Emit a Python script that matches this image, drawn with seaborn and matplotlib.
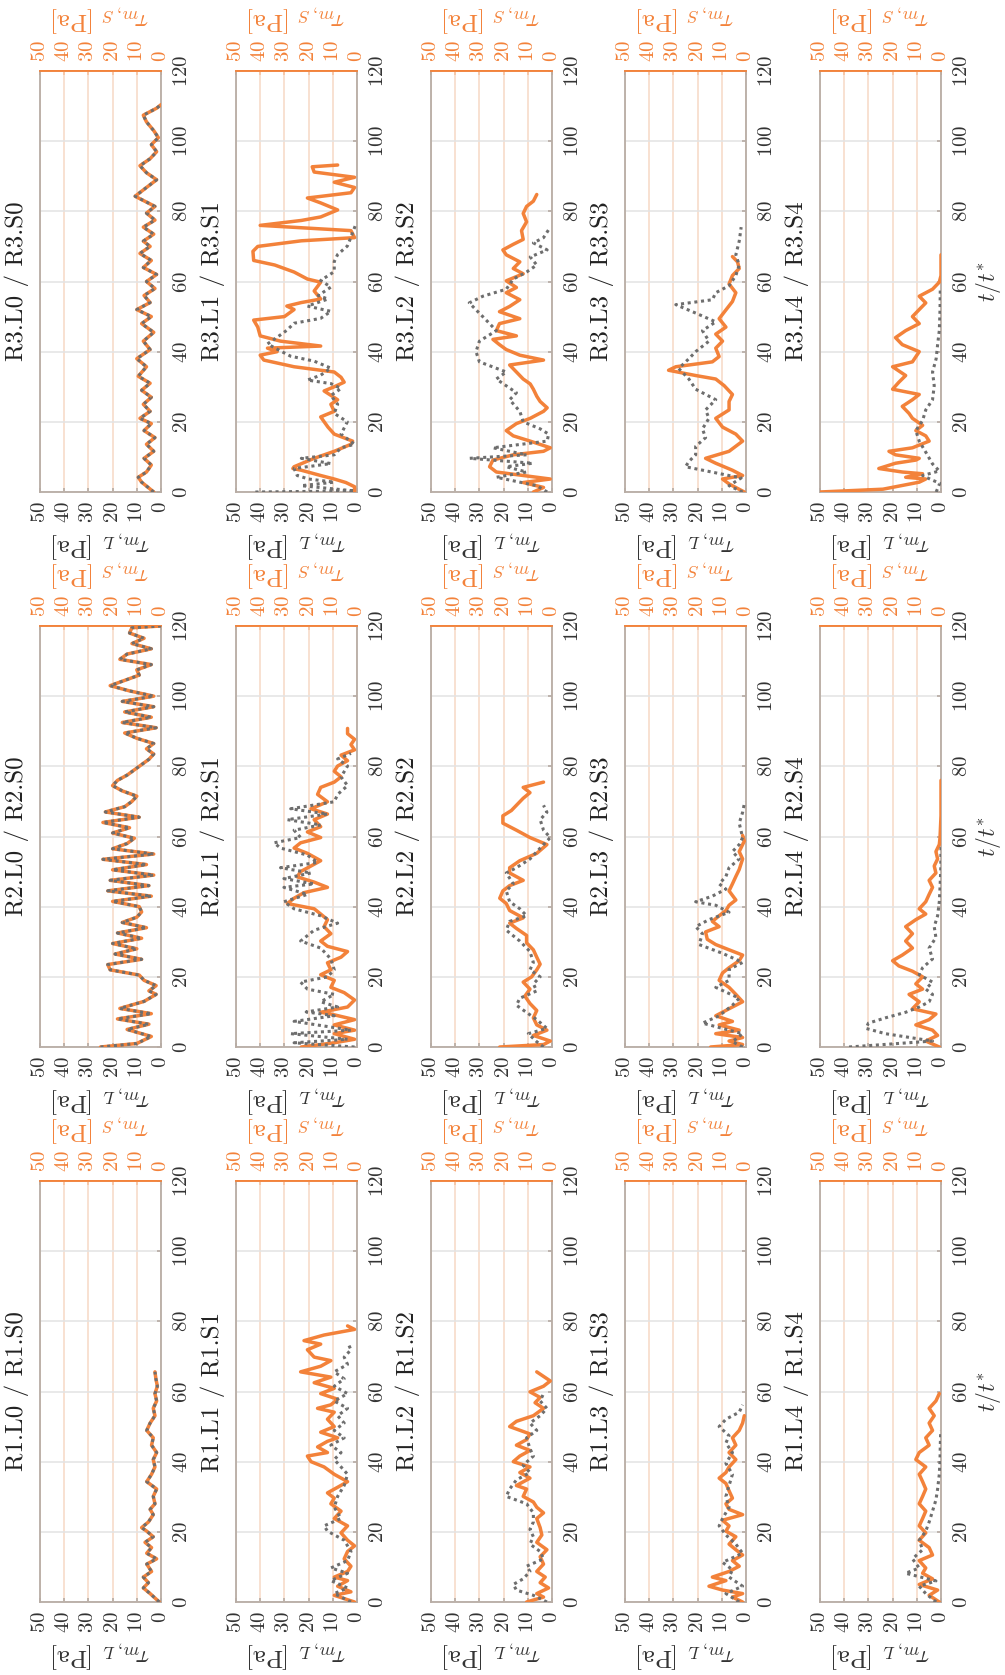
import matplotlib
matplotlib.use("Agg")
import matplotlib.pyplot as plt
import numpy as np
import pandas as pd
import seaborn as sns

# ---------------------------------------------------------------------------
# Wall shear stress histories, (t/t*, tau [Pa]) pairs.
# L = tau_m,L (grey dotted, bottom axis), S = tau_m,S (orange, top axis)
# ---------------------------------------------------------------------------
R3_L0 = [(0, 3), (2.8, 8), (4.2, 9.4), (5.7, 6), (7.7, 4), (9.6, 7), (11.6, 3), (13.6, 6),
         (15.5, 2.5), (17.5, 7), (19.5, 4), (21, 8.7), (23, 4.5), (25, 7.3), (27, 4), (29, 8),
         (31, 4.5), (33, 9.4), (35.7, 6), (38, 10), (40.6, 4.5), (43, 7.3), (45.5, 3), (48, 8),
         (50, 4), (52, 10), (54, 4.5), (56, 7), (58, 2.5), (60, 6), (62, 1.8), (64, 7.3),
         (66, 4), (68, 8.7), (70, 4.5), (71.5, 7.3), (73.5, 3), (75.5, 7.3), (77.5, 2.5),
         (79.5, 6), (81.4, 2.5), (84.3, 10.7), (86.8, 6), (89, 1.8), (91, 6), (93, 8.7),
         (95, 4.5), (97, 1.8), (99, 4), (101, 1.1), (103, 3), (105.5, 6), (107.4, 7.3),
         (109.4, 1.8), (110.4, 0)]
R3_S0 = R3_L0

R3_L1 = [(0, 42), (0.3, 1), (1.8, 23), (2.8, 9.4), (3.7, 20), (4.7, 24.7), (6.7, 26), (8.1, 10.8),
         (9.6, 23), (10.6, 9.4), (12.6, 6.6), (13.6, 1), (16.5, 6.6), (20, 4), (22.4, 9.4),
         (25, 8), (27.5, 10.8), (29.5, 6.6), (30.9, 10.8), (31.9, 20.5), (33.3, 15), (35.3, 10.8),
         (37.3, 17.7), (38.7, 27.4), (40.2, 31.6), (42.2, 37), (44.1, 33), (46.1, 29), (48.1, 26),
         (49.5, 15), (51.5, 10.8), (53, 20.5), (55, 12), (56, 16), (58.4, 10.8), (60.3, 15),
         (62.8, 9.4), (65.7, 9.4), (67.7, 8), (70.1, 4), (72.6, 2.5), (76.5, 0.4)]
R3_S1 = [(0, 1), (1.5, 1), (2.7, 4.6), (3.7, 9.4), (4.7, 15), (6.2, 23), (6.7, 26.5), (7.2, 26),
         (9.6, 17.7), (11.6, 9.4), (13.6, 2.5), (14.5, 1.8), (16.5, 9.4), (18.5, 12), (21.4, 15),
         (23, 9.4), (25, 10.8), (26.3, 8), (28.8, 13.6), (30, 9.4), (31.3, 5.3), (32.7, 6.6),
         (34.2, 9.4), (35.7, 26), (37.6, 38.5), (39, 40), (40, 33), (41, 37), (41.6, 15),
         (43, 31.6), (44.5, 40), (47, 41), (49, 42.7), (50, 30), (52, 26), (53, 29), (54, 23),
         (55, 15), (57.3, 17.7), (59.8, 15), (60.7, 20.5), (62.7, 26), (64.7, 34), (66, 42.7),
         (68.6, 43), (70, 41), (71.6, 23), (72.5, 1), (74.5, 2.5), (76, 40), (77.4, 23),
         (78.4, 15), (80.4, 8), (82.4, 15), (83.8, 20.5), (85.3, 2.5), (86.8, 1), (88.3, 9.4),
         (89.7, 1), (91.2, 17.7), (92.7, 18.5), (93.2, 8)]

R3_L2 = [(0, 2), (1.8, 6.3), (4.2, 23), (5.7, 10.5), (7.2, 18.9), (8.2, 8), (9.6, 34), (10.6, 10.5),
         (12.6, 24.4), (14.5, 2), (16.5, 1.4), (18, 4.9), (20, 11.9), (23, 13.3), (26.3, 17.5),
         (28.3, 14.7), (32.2, 23), (34.2, 18.9), (37.1, 30), (40, 31.4), (43, 30), (46, 23),
         (49, 27.2), (53.9, 34.2), (55.8, 28.6), (57.8, 18.9), (60.7, 16), (62.7, 10.5),
         (64.7, 6.3), (67, 9), (69, 2), (71, 7.7), (72.5, 3.5), (75.5, 0.7)]
R3_S2 = [(0, 7.7), (1.3, 3.5), (2.7, 11.9), (3.7, 0.7), (5.7, 23), (7.2, 25.8), (9.1, 24.4),
         (10.6, 16), (11.6, 3.5), (12.6, 0.7), (14.5, 9), (16, 16), (17.5, 18.9), (19.5, 14.7),
         (21, 9), (23, 3.5), (24, 2), (25.8, 4.9), (27.3, 6.3), (29.3, 7.7), (30.8, 9),
         (32.2, 11.9), (34.2, 14.7), (36.2, 17.5), (37.6, 3.5), (39, 13.3), (40.6, 18.9),
         (42, 21.7), (43.5, 24.4), (44.5, 14.7), (46, 23), (48, 21.7), (49.4, 13.3), (51.4, 21.7),
         (52.9, 17.5), (54.8, 13.3), (56.8, 18.9), (58.3, 14.7), (60.2, 18.9), (62.2, 11.9),
         (63.7, 16), (65.6, 13.3), (67.6, 18.9), (69, 20.3), (70.6, 16), (72, 11.9), (74.5, 12.6),
         (77, 10.5), (79.4, 11.9), (81.4, 10.5), (82.9, 7.7), (84.8, 6.3)]

R3_L3 = [(0, 1.4), (1.8, 7), (4, 2), (7.2, 25), (8.7, 23.6), (10.6, 20.8), (13, 20.8), (15.5, 16.7),
         (18, 18), (21, 15.3), (23.4, 16.7), (26.3, 12.5), (29.3, 20.8), (32.2, 23.6), (35.2, 27.8),
         (38, 23.6), (40, 20.8), (43, 15.3), (46, 18), (48.5, 12.5), (51, 20.8), (53.4, 29),
         (54.8, 13.9), (56.8, 12.5), (58.8, 7), (61.7, 4.2), (64.7, 2.8), (67.6, 4.2), (71.5, 2.8),
         (75.5, 2)]
R3_S3 = [(0, 0.7), (2.3, 7), (3.7, 9.7), (4.7, 1.4), (6.2, 5.6), (8.2, 12.5), (9.6, 16.7), (11.6, 7),
         (14.5, 1.4), (16.5, 4.2), (18.5, 9.7), (21, 12.5), (23.4, 7), (25.8, 7), (27.8, 5.6),
         (30.3, 9), (32.2, 12.5), (33.2, 20.8), (34.7, 32), (35.7, 29), (37.1, 13.9), (38.6, 11.1),
         (41, 12.5), (43, 9.7), (45, 12.5), (47, 8.3), (49.4, 11.1), (51.9, 8.3), (54.3, 5.6),
         (56.8, 4.2), (59.3, 7), (61.7, 5.6), (63.7, 2.8), (65.6, 3.5), (67.1, 5.6)]

R3_L4 = [(0, 2), (2.5, 0.5), (3.5, 4), (4.7, 7.6), (6, 0.7), (8, 3.5), (11, 6), (14.5, 9),
         (17.5, 10.4), (20.4, 7.6), (23.4, 6.3), (26.3, 3.5), (30.3, 2.8), (34.2, 3.5), (38, 2),
         (42, 1.4), (46, 0.7), (52, 0.4), (57.8, 0.3)]
R3_S4 = [(0, 50), (0.8, 24), (2.8, 9), (3.7, 6.3), (4.2, 14.6), (5.2, 7.6), (5.7, 16), (6.7, 25.7),
         (8.2, 18.8), (9.1, 10.4), (9.6, 9), (10.6, 18.8), (11.6, 21.5), (12.6, 11.8), (14.5, 4.9),
         (16, 6.3), (17.5, 10.4), (19, 7.6), (21, 11.8), (22.4, 13.2), (24.4, 16), (26.3, 11.8),
         (27.8, 9), (29.3, 20), (31.3, 17.4), (33.2, 14.6), (35.7, 20), (37.1, 11.8), (40, 9),
         (42, 16), (44, 18.8), (46, 14.6), (48, 9), (50, 11.8), (52, 9), (53.9, 6.3), (55.8, 9),
         (57.8, 3.5), (59.8, 0.7), (61.7, 0), (67.6, 0)]

R2_L0 = [(0, 25), (1, 10), (3, 4), (5, 14), (6.5, 5), (8, 18), (9.5, 4), (11, 17), (13, 7), (15, 2),
         (16, 5), (17.5, 2), (19, 7), (20.5, 9), (22, 21), (23.5, 22), (25, 8), (26.5, 19), (28, 10),
         (29.5, 20), (31, 8), (32.5, 18), (34, 6), (35.5, 16), (37, 10), (38.5, 8), (40, 9),
         (41.5, 20), (43, 4), (44.5, 22), (46, 5), (47.5, 21), (49, 3), (50.5, 20), (52, 6),
         (53.5, 24), (55, 3), (56.5, 20), (58, 14), (59.5, 11), (61, 20), (62.5, 13), (64, 24),
         (65.5, 9), (67, 23), (68.5, 15), (70, 12), (71.5, 10), (73, 16), (74.5, 20), (76, 18),
         (77.5, 14), (79, 11), (80.5, 8), (82, 5), (83.5, 3), (85, 6), (86.5, 3), (88, 10),
         (89.5, 15), (91, 2), (92.5, 16), (94, 4), (95.5, 15), (97, 3), (98.5, 16), (100, 3),
         (101.5, 13), (103, 21), (104.5, 15), (106, 9), (107.5, 10), (109, 4), (110.5, 17),
         (112, 14), (113.5, 4), (115, 12), (116.5, 7), (118, 13), (119.5, 12), (120, 0)]
R2_S0 = R2_L0

R2_L1 = [(0, 1), (1.2, 26), (2.2, 3.9), (3.8, 27.4), (4.8, 2.5), (7.3, 26), (8.9, 9.4), (10, 21),
         (11.4, 8), (12.9, 15), (15, 9.4), (16.5, 20.5), (18.5, 23.3), (20, 12.2), (22, 9.4),
         (25.1, 10.8), (28.2, 15), (30.2, 23.3), (33.3, 17.7), (35.3, 8), (37.4, 15), (39.4, 26),
         (41.4, 30.2), (43.5, 20.5), (45.5, 30.2), (46.5, 17.7), (48, 30.2), (49.6, 19),
         (51.1, 31.6), (52.6, 16.3), (54.7, 20.5), (56.7, 31.6), (58.2, 34.3), (59.7, 23.3),
         (61.8, 26), (63.3, 15), (64.8, 28.8), (66.4, 12.2), (67.9, 27.4), (69.9, 9.4), (72, 8),
         (74.5, 3.9), (77, 6.6), (80.1, 3.9), (82.1, 8), (83.7, 2.5)]
R2_S1 = [(0, 23), (1.2, 9.4), (2.2, 1), (3.8, 9.4), (4.8, 1), (6.3, 9.4), (7.8, 1), (9.4, 10.8),
         (9.9, 15), (11.4, 3.9), (13.4, 1), (15.5, 5.3), (17, 10.8), (19, 9.4), (20.6, 15),
         (22, 10.8), (24, 12.2), (25.6, 6.6), (27.2, 3.9), (28.7, 12.2), (30.2, 15), (32.3, 10.8),
         (34.3, 13.6), (36.3, 12.2), (37.9, 15), (39.4, 17.7), (40.9, 28.8), (42.4, 26), (44, 21.9),
         (45.5, 12.2), (47, 17.7), (48.5, 24.7), (50, 23.3), (51.6, 19), (53.1, 15), (55.2, 20.5),
         (56.7, 26), (58.2, 23.3), (59.7, 15), (61.3, 20.5), (62.8, 15), (64.8, 17.7), (66.4, 12.2),
         (67.9, 19), (69.9, 12.2), (72, 16.3), (74, 15), (75.5, 9.4), (77, 6.6), (78.6, 9.4),
         (80.1, 8), (81.6, 3.9), (83.2, 6.6), (84.7, 1), (86.2, 2.5), (87.7, 1), (89.3, 3.9),
         (90.8, 3.9)]

R2_L2 = [(0, 3.5), (1.5, 6.3), (3.8, 9.8), (5.3, 2.1), (7.8, 6.3), (11.9, 14.7), (13.9, 13.3),
         (16, 6.3), (18, 7.7), (20, 4.9), (22, 9.1), (24.1, 7.7), (27.2, 9.1), (30.2, 13.3),
         (33.3, 18.9), (35.8, 17.5), (37.4, 10.5), (39.4, 13.3), (41.4, 17.5), (44.5, 18.9),
         (46.5, 16), (49.6, 18.9), (51.1, 14.7), (53.6, 9.1), (57.7, 3.5), (59.7, 0.7), (61.8, 3.5),
         (64.8, 4.9), (66.9, 2.1), (68.9, 3.5)]
R2_S2 = [(0, 21.6), (0.7, 3.5), (1.7, 0.7), (3.3, 7.7), (4.8, 2.1), (6.3, 6.3), (8.3, 7.7),
         (10.4, 6.3), (12.4, 9.1), (14.5, 11.2), (16.5, 9.1), (18.5, 11.9), (20, 8.4), (22, 6.3),
         (23.6, 4.9), (25.6, 6.3), (27.7, 7.7), (29.7, 10.5), (31.8, 10.5), (33.8, 14.7),
         (35.3, 17.5), (36.8, 11.9), (38.9, 17.5), (40.9, 18.9), (42.4, 21.6), (44.5, 20.3),
         (46, 17.5), (47.5, 11.9), (49.6, 17.5), (51.1, 17.5), (53.1, 13.3), (55.2, 6.3),
         (57.7, 2.1), (59.7, 9.1), (61.8, 14.7), (63.8, 20.3), (65.9, 20.3), (67.4, 16.8),
         (68.9, 14.7), (70.9, 11.9), (72.5, 9.1), (74, 11.9), (75.5, 3.5)]

R2_L3 = [(0, 1.4), (1.5, 5.6), (3.8, 1.4), (6.8, 18), (8.9, 11.1), (11.9, 5.6), (13.9, 2.8),
         (17, 12.5), (19, 7), (22.1, 7), (24.1, 1.4), (26.7, 9.7), (29.2, 19.4), (32.3, 18),
         (34.3, 20.8), (36.3, 15.3), (38.4, 7), (40.4, 12.5), (41.4, 20.8), (43, 13.9), (45, 8.3),
         (46.5, 11.1), (48.6, 8.3), (51.1, 7), (53.6, 2.8), (55.7, 5.6), (57.7, 2.8), (59.7, 1.4),
         (63.8, 2.8), (66.9, 1.4), (70, 0.5)]
R2_S3 = [(0, 14.6), (0.7, 1.4), (1.7, 7), (2.7, 1.4), (3.8, 12.5), (4.8, 2.8), (6.3, 11.1),
         (7.3, 5.6), (8.9, 12.5), (10.9, 7), (12.9, 1.4), (15, 4.2), (17, 7), (19, 11.1), (21.1, 9.7),
         (22.6, 7), (24.6, 2.8), (26.2, 1.4), (27.7, 7), (29.2, 12.5), (30.7, 16), (32.8, 16.7),
         (34.3, 11.1), (35.8, 13.9), (37.4, 11.1), (38.9, 8.3), (40.4, 7), (41.9, 4.2), (44.5, 7),
         (46.5, 5.6), (48.6, 4.2), (50.6, 2.8), (53.6, 1.4), (55.7, 2.8), (58.7, 0.7), (60.3, 1.4)]

R2_L4 = [(0, 38), (1.7, 3.5), (3.8, 23), (5.3, 31), (6.8, 30), (8.3, 23), (9.9, 14.6), (11.4, 9),
         (12.9, 4.9), (15, 3.5), (16.5, 6.3), (18.5, 3.5), (20.6, 9), (22.6, 7.6), (25.1, 3.5),
         (28.2, 4.9), (31.2, 2.1), (34.3, 2.8), (37.4, 1.4), (41.4, 0.7), (45.5, 0.4), (50.6, 0.1),
         (57.7, 0)]
R2_S4 = [(0, 0.7), (1.7, 6.3), (3.3, 1.4), (4.8, 3.5), (6.3, 10.4), (7.8, 4.9), (9.4, 2.1),
         (10.9, 11.8), (12.9, 9), (15, 13.2), (16.5, 7.6), (18, 10.4), (20, 7.6), (21.6, 11.8),
         (23.1, 17.4), (24.6, 20), (26.2, 16), (28.2, 11.8), (30.2, 14.6), (32.3, 11.8), (34.3, 14.6),
         (36.3, 10.4), (37.9, 6.3), (39.4, 9), (41.4, 6.3), (43.5, 4.9), (45.5, 3.5), (47.5, 4.9),
         (49.6, 2.1), (51.6, 2.8), (53.6, 1.4), (55.7, 2.1), (57.7, 0.7), (59.7, 0.4), (65.9, 0),
         (76, 0)]

R1_L0 = [(0, 0.7), (2.4, 4.5), (4, 7.3), (5.5, 5.2), (7.1, 7.3), (8.7, 3.9), (10.8, 5.9), (12.3, 1.8),
         (13.9, 5.9), (15.5, 3.9), (17, 6.6), (18.6, 3.2), (20.2, 5.9), (21.2, 8), (22.8, 5.2),
         (24.9, 3.2), (26.4, 4.5), (28, 2.5), (30.1, 3.2), (32.2, 1.8), (34.3, 5.9), (36.4, 3.9),
         (38.5, 2.5), (40.6, 3.2), (42.6, 1.8), (44.7, 3.9), (46.8, 3.2), (48.9, 5.9), (51, 4.5),
         (53.1, 2.5), (55.2, 3.2), (57.3, 1.8), (59.4, 2.5), (61.5, 1.5), (63.6, 2.1), (65.6, 2.5)]
R1_S0 = R1_L0

R1_L1 = [(0, 2.5), (2.4, 9.4), (4, 3.9), (6.1, 10.8), (8.2, 3.9), (9.7, 10.8), (11.8, 3.9),
         (14.4, 2.5), (17.6, 5.3), (20.2, 12.2), (21.7, 13.6), (23.8, 6.6), (27, 9.4), (30.1, 8),
         (33.2, 5.3), (36.4, 3.9), (38.5, 6.6), (40.6, 9.4), (42.6, 6.6), (44.7, 10.8), (46.8, 5.3),
         (48.9, 9.4), (51, 5.3), (53.1, 8), (55.2, 3.9), (57.3, 9.4), (59.4, 3.9), (61.5, 9.4),
         (63.6, 5.3), (65.6, 9.4), (67.7, 3.9), (69.8, 5.3), (71.9, 2.5), (74, 3.9)]
R1_S1 = [(0, 1), (1.9, 9.4), (2.9, 2.5), (4.5, 8), (6.1, 3.9), (7.1, 9.4), (8.7, 3.9), (10.2, 2.5),
         (12.3, 5.3), (14.4, 3.9), (16, 1), (17.6, 3.9), (19.7, 6.6), (21.7, 3.9), (23.8, 9.4),
         (25.9, 6.6), (28, 10.8), (29.6, 9.4), (31.1, 12.2), (32.7, 8), (34.3, 3.9), (36.4, 9.4),
         (38.5, 13.6), (40, 19), (41.6, 20.5), (42.6, 12.2), (44.2, 16.3), (45.8, 12.2), (46.8, 8),
         (48.4, 15), (50, 9.4), (52.1, 12.2), (54.1, 9.4), (55.2, 16.3), (56.2, 10.8), (57.8, 8),
         (59.4, 15), (60.9, 9.4), (62.5, 17.7), (64.1, 10.8), (65.6, 23.3), (67.2, 15), (68.8, 10.8),
         (69.8, 17.7), (71.9, 20.5), (73.5, 15), (74.5, 21.9), (76.1, 13.6), (77.7, 1), (78.7, 3.9)]

R1_L2 = [(0, 2.1), (1.9, 7.7), (3.4, 14.7), (5, 16), (6.6, 11.9), (8.7, 9.1), (10.2, 10.5),
         (12.3, 3.5), (14.4, 4.9), (16.5, 9.1), (18.6, 7.7), (20.7, 9.1), (22.8, 7.7), (25.4, 7.7),
         (28, 10.5), (30.1, 18.9), (32.2, 17.5), (34.8, 14.7), (36.9, 9.1), (39, 11.9), (41.6, 7.7),
         (43.7, 9.1), (46.8, 10.5), (48.9, 6.3), (51, 9.1), (53.1, 4.9), (55.2, 2.1), (57.3, 4.9),
         (59.4, 3.5)]
R1_S2 = [(0, 10.5), (1.4, 3.5), (2.4, 6.3), (4, 1.4), (5.5, 4.9), (7.1, 2.8), (8.7, 6.3),
         (10.8, 3.5), (12.9, 4.9), (14.9, 2.1), (17, 6.3), (19.1, 4.2), (21.2, 4.9), (23.8, 6.3),
         (25.4, 3.5), (27, 6.3), (28.5, 7.7), (30.1, 11.9), (32.2, 10.5), (33.2, 14.7), (35.3, 9.1),
         (36.9, 13.3), (38.5, 9.1), (40, 16), (41.6, 13.3), (43.2, 9.1), (44.7, 14.7), (46.3, 10.5),
         (47.9, 9.1), (50, 17.5), (51.5, 14.7), (53.1, 7.7), (55.2, 3.5), (56.8, 7), (58.3, 4.9),
         (59.9, 9.1), (61.5, 3.5), (63, 0.7), (65.6, 6.3)]

R1_L3 = [(0, 2.8), (2.4, 8.3), (4.5, 1.4), (7.1, 7), (9.2, 5.6), (11.3, 9.7), (13.9, 1.4), (16.5, 4.2),
         (19.1, 8.3), (21.7, 11.1), (23.8, 9.7), (27, 7), (30.1, 8.3), (33.2, 7), (36.4, 5.6),
         (39.5, 8.3), (42.6, 5.6), (45.3, 8.3), (47.4, 7), (50, 11.1), (52.1, 8.3), (54.1, 2.8),
         (56.2, 1.4)]
R1_S3 = [(0, 1.4), (1.4, 5.6), (2.4, 1.4), (3.4, 9.7), (4.5, 15.3), (6.1, 8.3), (7.1, 13.9), (8.7, 7),
         (10.2, 2.8), (11.8, 5.6), (13.4, 1.4), (14.9, 4.2), (16.5, 7), (18.6, 4.2), (20.2, 8.3),
         (21.7, 7), (23.3, 9.7), (24.9, 1.4), (26.4, 7), (28, 8.3), (29.6, 5.6), (31.7, 7),
         (33.8, 8.3), (35.3, 11.1), (36.9, 8.3), (38.5, 7), (40.6, 4.2), (42.6, 7), (44.7, 4.2),
         (46.8, 5.6), (48.9, 2.8), (51, 1.4), (53.1, 0.7)]

R1_L4 = [(0, 2), (2.4, 6.3), (4.5, 9), (6, 2.1), (8.2, 14.6), (9.7, 9), (12.3, 11.8), (14.9, 7.6),
         (17.6, 9), (20.2, 6.3), (22.8, 4.9), (25.9, 3.5), (29.1, 2.1), (32.2, 1.4), (36.4, 0.7),
         (40.6, 0.4), (44.7, 0.3), (48.9, 0.1)]
R1_S4 = [(0, 0.7), (1.9, 4.9), (3.4, 1.4), (5, 9), (6.6, 3.5), (8.2, 7.6), (9.7, 6.3), (11.8, 9),
         (13.4, 3.5), (15.5, 4.9), (17.6, 9), (19.7, 6.3), (21.7, 9), (23.8, 7.6), (25.9, 6.3),
         (28, 9), (30.1, 7.6), (32.2, 6.3), (34.3, 7.6), (36.4, 9), (38.5, 6.3), (40.6, 10.4),
         (42.6, 9), (44.7, 4.9), (46.8, 6.3), (48.9, 3.5), (51, 4.9), (53.1, 2.8), (55.2, 4.9),
         (57.3, 2.1), (59.4, 0.7)]

ROWS = ["R3", "R2", "R1"]                 # top to bottom
LEVELS = [0, 1, 2, 3, 4]                  # left to right
TAU_TICKS = [0, 10, 20, 30, 40, 50]
T_TICKS = [0, 20, 40, 60, 80, 100, 120]

SERIES = {
    "R3": [(R3_L0, R3_S0), (R3_L1, R3_S1), (R3_L2, R3_S2), (R3_L3, R3_S3), (R3_L4, R3_S4)],
    "R2": [(R2_L0, R2_S0), (R2_L1, R2_S1), (R2_L2, R2_S2), (R2_L3, R2_S3), (R2_L4, R2_S4)],
    "R1": [(R1_L0, R1_S0), (R1_L1, R1_S1), (R1_L2, R1_S2), (R1_L3, R1_S3), (R1_L4, R1_S4)],
}

# ---------------------------------------------------------------------------
# Styling
# ---------------------------------------------------------------------------
ORANGE = "#F3823A"
GREY = "#6E6E6E"
FRAME = "#B8ADA5"
GRID_S = "#F7D9C5"
GRID_L = "#E3E3E3"
INK = "#333333"

sns.set_theme(style="white")
plt.rcParams["font.family"] = ["cmr10", "DejaVu Serif"]
plt.rcParams["mathtext.fontset"] = "cm"
plt.rcParams["axes.formatter.use_mathtext"] = True
plt.rcParams["axes.unicode_minus"] = False

W, H = 1005, 1675
fig = plt.figure(figsize=(W / 100, H / 100), dpi=100)
fig.patch.set_facecolor("white")

COL_LEFT = [40, 236, 431, 625, 820]
PANEL_W = 121
ROW_SPAN = {"R3": (71, 492), "R2": (626, 1047), "R1": (1181, 1602)}

TICK_FS = 15
LABEL_FS = 18
TITLE_FS = 18

for row in ROWS:
    top, bot = ROW_SPAN[row]
    for j in LEVELS:
        left = COL_LEFT[j]
        ax = fig.add_axes([left / W, 1 - bot / H, PANEL_W / W, (bot - top) / H])
        ax.set_facecolor("white")

        series_l, series_s = SERIES[row][j]
        df_s = pd.DataFrame(series_s, columns=["t", "tau"])
        df_l = pd.DataFrame(series_l, columns=["t", "tau"])

        sns.lineplot(data=df_s, x="tau", y="t", orient="y", sort=False, estimator=None,
                     color=ORANGE, lw=2.5, ax=ax, zorder=3, solid_joinstyle="round")
        sns.lineplot(data=df_l, x="tau", y="t", orient="y", sort=False, estimator=None,
                     color=GREY, lw=2.2, linestyle=(0, (1.0, 1.2)), ax=ax, zorder=4)

        ax.set_xlim(50, 0)
        ax.set_ylim(0, 120)
        ax.set_xlabel("")
        ax.set_ylabel("")

        # grid: light orange for the tau_m,S scale, light grey for time
        ax.set_xticks(TAU_TICKS)
        ax.set_yticks(T_TICKS)
        ax.xaxis.grid(True, color=GRID_S, lw=1.1)
        ax.yaxis.grid(True, color=GRID_L, lw=1.1)
        ax.set_axisbelow(True)

        for side in ("left", "right", "bottom"):
            ax.spines[side].set_color(FRAME)
            ax.spines[side].set_linewidth(1.3)
        ax.spines["top"].set_color(ORANGE)
        ax.spines["top"].set_linewidth(1.3)

        # tau_m,L scale along the bottom
        ax.tick_params(axis="x", bottom=True, top=False, direction="in", length=3,
                       color=FRAME, labelsize=TICK_FS, labelcolor=INK, pad=6.5,
                       labelrotation=90)
        ax.annotate(r"$\tau_{m,L}$ [Pa]", xy=(0.5, 0), xycoords="axes fraction",
                    xytext=(0, -38), textcoords="offset points", rotation=180,
                    ha="center", va="center", fontsize=LABEL_FS, color=INK)

        # time scale on the right
        ax.yaxis.tick_right()
        ax.tick_params(axis="y", left=False, right=True, direction="in", length=3,
                       color=FRAME, labelsize=TICK_FS, labelcolor=INK, pad=8.5,
                       labelrotation=90)
        for lbl in ax.get_yticklabels():
            lbl.set_verticalalignment("center")
        if j == 4:
            ax.annotate(r"$t/t^{*}$", xy=(1, 0.5), xycoords="axes fraction",
                        xytext=(34, 0), textcoords="offset points", rotation=90,
                        ha="center", va="center", fontsize=17, color=INK)

        # tau_m,S scale along the top
        sec = ax.secondary_xaxis("top")
        sec.set_xticks(TAU_TICKS)
        sec.tick_params(axis="x", direction="in", length=3, color=ORANGE,
                        labelsize=TICK_FS, labelcolor=ORANGE, pad=6.5, labelrotation=90)
        sec.spines["top"].set_color(ORANGE)
        sec.spines["top"].set_linewidth(1.3)
        ax.annotate(r"$\tau_{m,S}$ [Pa]", xy=(0.5, 1), xycoords="axes fraction",
                    xytext=(0, 38), textcoords="offset points", rotation=180,
                    ha="center", va="center", fontsize=LABEL_FS, color=ORANGE)

        ax.annotate(f"{row}.L{j} / {row}.S{j}", xy=(0, 0.5), xycoords="axes fraction",
                    xytext=(-16.5, 0), textcoords="offset points", rotation=90,
                    ha="center", va="center", fontsize=TITLE_FS, color="#222222")

fig.savefig("out.png", dpi=100, facecolor="white")
